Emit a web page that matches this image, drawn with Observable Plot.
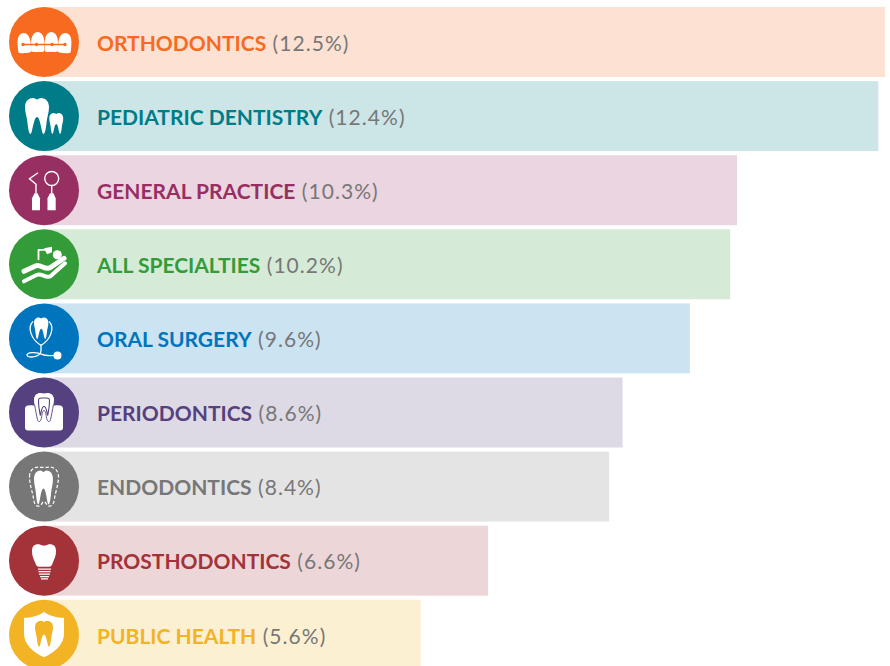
<!DOCTYPE html>
<html><head><meta charset="utf-8">
<script src="https://cdn.jsdelivr.net/npm/d3@7"></script>
<script src="https://cdn.jsdelivr.net/npm/@observablehq/plot@0.6"></script>
<style>
html,body{margin:0;padding:0;background:#fff;overflow:hidden;width:890px;height:666px}
svg{display:block}
</style></head><body><div id="chart"></div>
<script>
const categories = ["ORTHODONTICS","PEDIATRIC DENTISTRY","GENERAL PRACTICE","ALL SPECIALTIES","ORAL SURGERY","PERIODONTICS","ENDODONTICS","PROSTHODONTICS","PUBLIC HEALTH"];
const shares = [12.5,12.4,10.3,10.2,9.6,8.6,8.4,6.6,5.6];
const colors = ["#F76B21","#007C89","#982F62","#339C38","#0075BE","#55417F","#777777","#A33239","#F2B324"];
const valueColor = "#777777";

// a generic molar in a 24x36 box
const molar = "M0 9C0 3 4 0 8 0C10 0 11 1.5 12 1.5C13 1.5 14 0 16 0C20 0 24 3 24 9C24 15 22 19 21.5 25C21 30 20 36 18.5 36C16.5 36 15.5 19 12 19C8.5 19 7.5 36 5.5 36C4 36 3 30 2.5 25C2 19 0 15 0 9Z";
const front = "M.4 11C.4 3.5 3.5 0 7 0C10.5 0 13.6 3.5 13.6 11L13.6 18C13.6 20 12 20 7 20C2 20 .4 20 .4 18Z";
const icon = (inner) => "data:image/svg+xml;utf8," + encodeURIComponent(
  `<svg xmlns="http://www.w3.org/2000/svg" width="70" height="70" viewBox="0 0 70 70">${inner}</svg>`);
const icons = [
  // braces
  icon(`<g fill="#fff"><path d="${front}" transform="translate(8 26) rotate(-5 7 9)"/><path d="${front}" transform="translate(21.7 25)"/><path d="${front}" transform="translate(35.3 25)"/><path d="${front}" transform="translate(49 26) rotate(5 7 9)"/></g>
  <path d="M14 37.5H57" stroke="#F76B21" stroke-width="1.3"/><g fill="#F76B21"><circle cx="14" cy="37.5" r="1.7"/><circle cx="27.5" cy="37.5" r="1.7"/><circle cx="43" cy="37.5" r="1.7"/><circle cx="56" cy="37.5" r="1.7"/></g>`),
  // two teeth
  icon(`<g fill="#fff"><path d="${molar}" transform="translate(16 17)"/><path d="${molar}" transform="translate(40.3 32) scale(.58)"/></g>`),
  // dental tools
  icon(`<g fill="#fff"><path d="M23 55V43L25.5 38H28.5L31 43V55Z"/><path d="M38.5 55V43L41 38H44.5L46.7 43V55Z"/></g>
  <g fill="none" stroke="#fff" stroke-width="1.4"><path d="M27 38V29L20.5 23.5L29 17.5"/><circle cx="42.7" cy="23.3" r="7"/><path d="M42.7 30.3V38"/></g>`),
  // patient in a chair
  icon(`<circle cx="48.3" cy="25.5" r="4.5" fill="#fff"/>
  <g fill="none" stroke="#fff" stroke-linecap="round" stroke-linejoin="round"><path d="M15 42L27 36.5C32 35 36 41 41 38.5L55 29" stroke-width="5"/><path d="M15 52L28 45.5C33 43.5 37 50 42 46.5L56 34" stroke-width="4"/><path d="M29.5 30V20.5H38" stroke-width="1.8"/></g>
  <path d="M35 19L43 17.5V23L38 25Z" fill="#fff"/>`),
  // tooth and stethoscope
  icon(`<path d="${molar}" fill="#fff" transform="translate(25 14) scale(.6)"/>
  <g fill="none" stroke="#fff" stroke-width="1.3"><path d="M24 18C18 24 22 36 32 42C42 36 46 24 40 18"/><path d="M32 42V47C32 54 19 55 18 52C17 49 27 48 33 51C37 53 41 52 48 52"/></g>
  <circle cx="48.5" cy="52" r="4" fill="#fff"/>`),
  // tooth in gum
  icon(`<path d="M16 31C16 28 19 27 25 28H45C51 27 54 28 54 31V50C54 52 53 53 51 53H19C17 53 16 52 16 50Z" fill="#fff"/>
  <path d="M25 22C25 17 29 15 32 15.5C34 16 36 16 38 15.5C41 15 45 17 45 22C45 29 43 36 41.5 42C41 44 39 45 38 42C37 39 37 33 35 33C33 33 33 39 32 42C31 45 29 44 28.5 42C27 36 25 29 25 22Z" fill="#fff"/>
  <path d="M25.5 27C26.5 32 27.5 38 28.5 42C29 44.5 31 45 32 42C33 39 33 33 35 33C37 33 37 39 38 42C39 45 41 44.5 41.5 42C42.5 38 43.5 32 44.5 27" fill="none" stroke="#55417F" stroke-width=".9"/>
  <path d="M29.5 23C29.5 20 32 20.5 35 20.5C38 20.5 40.5 20 40.5 23C40.5 28 39.5 34 38.7 38C37.5 34 37.5 29 35 29C32.5 29 32.5 34 31.3 38C30.5 34 29.5 28 29.5 23Z" fill="none" stroke="#55417F" stroke-width="1.1"/>`),
  // tooth with dashed outline
  icon(`<path d="${molar}" fill="#fff" transform="translate(25 19) scale(.79 .94)"/>
  <path d="M20.5 25C20.5 18 26 15 30 15.5C33 16 37 16 40 15.5C44 15 49.5 18 49.5 25C49.5 33 46.5 40 45.5 47C45 52 43 55 40 54.5C37 54 37 50 35 50C33 50 33 54 30 54.5C27 55 25 52 24.5 47C23.5 40 20.5 33 20.5 25Z" fill="none" stroke="#fff" stroke-width="1.2" stroke-dasharray="3.4 2"/>`),
  // implant
  icon(`<path d="M23 25C23 20 26 18 30 18.5C32 19 34 20 35 20C36 20 38 19 40 18.5C44 18 47 20 47 25C47 31 45 34 44 36.5C43 39.5 42 41 40 41H30C28 41 27 39.5 26 36.5C25 34 23 31 23 25Z" fill="#fff"/>
  <g stroke="#fff" stroke-width="1.3"><path d="M29 43.5H42"/><path d="M29.5 46H41.5"/><path d="M30 48.5H41"/><path d="M31 51H40"/><path d="M32 53.2H39"/></g>`),
  // shield
  icon(`<path d="M35 12C40 16 48 18 55 18V34C55 45 45 53 35 57.5C25 53 15 45 15 34V18C22 18 30 16 35 12Z" fill="#fff"/>
  <path d="${molar}" fill="#F2B324" transform="translate(26 21) scale(.75 .72)"/>`)
];

const rows = categories.map((name, i) => ({name, share: shares[i], color: colors[i], icon: icons[i]}));
const bandW = 70, step = 74.1;
const yRange = [7, 7 + step * categories.length - (step - bandW)];

const plot = Plot.plot({
  width: 890, height: 666,
  margin: 0,
  x: {axis: null, domain: [0, 12.5], range: [44, 885]},
  y: {axis: null, domain: categories, range: yRange, round: false, paddingInner: (step - bandW) / step, paddingOuter: 0},
  marks: [
    Plot.barX(rows, {x: "share", y: "name", fill: "color", fillOpacity: 0.2}),
    Plot.dot(rows, {x: () => 0, y: "name", r: 35, fill: "color", dx: -0.5, dy: -0.5}),
    Plot.image(rows, {x: () => 0, y: "name", src: "icon", width: 70, height: 70, dx: -0.5, dy: -0.5}),
    Plot.text(rows, {x: () => 0, y: "name", dx: 52.5, dy: 1.5, text: "name", fill: "color", textAnchor: "start",
      fontFamily: "Lato", fontSize: 21, fontWeight: 700, letterSpacing: 0.55})
  ]
});
d3.select(plot).selectAll('g[aria-label="text"] text').each(function(_, i) {
  d3.select(this).append("tspan").attr("fill", valueColor).attr("font-weight", 400)
    .attr("letter-spacing", 1.05).text(` (${shares[i]}%)`);
});
document.getElementById("chart").append(plot);
</script></body></html>
